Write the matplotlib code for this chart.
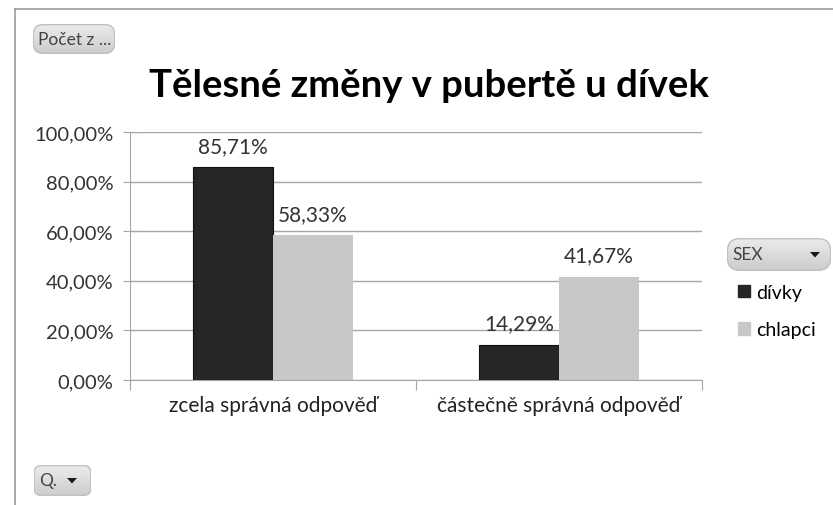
import matplotlib
matplotlib.use("Agg")
import numpy as np
import matplotlib.pyplot as plt
from matplotlib.patches import FancyBboxPatch, Patch, Polygon
from matplotlib.lines import Line2D
from matplotlib.colors import LinearSegmentedColormap

plt.rcParams['font.family'] = ['Lato', 'DejaVu Sans']

categories = ["zcela správná odpověď", "částečně správná odpověď"]
series_names = ["dívky", "chlapci"]
divky = [85.71, 14.29]
chlapci = [58.33, 41.67]
yticks = [0, 20, 40, 60, 80, 100]

dark = "#262626"
light = "#c8c8c8"
axis_grey = "#a6a6a6"
text_grey = "#333333"

W, H = 833, 506
fig = plt.figure(figsize=(W / 100, H / 100), dpi=100)


def fx(px):
    return px / W


def fy(py):
    return 1 - py / H


# outer frame (only left and top edges are visible)
fig.add_artist(Line2D([fx(15), fx(15)], [fy(10), 0], color="#999999", lw=1.2))
fig.add_artist(Line2D([fx(15), 1], [fy(10), fy(10)], color="#999999", lw=1.2))

ax = fig.add_axes([fx(130), fy(381), fx(702) - fx(130), fy(133) - fy(381)])

x = range(len(categories))
w = 0.28
b1 = ax.bar([i - w / 2 for i in x], divky, w, color=dark, edgecolor="#111111", lw=0.8, zorder=3)
b2 = ax.bar([i + w / 2 for i in x], chlapci, w, color=light, zorder=3)

for bars, vals in ((b1, divky), (b2, chlapci)):
    for bar, v in zip(bars, vals):
        ax.annotate(f"{v:.2f}%".replace(".", ","),
                    (bar.get_x() + bar.get_width() / 2, v),
                    xytext=(0, 8), textcoords="offset points",
                    ha="center", va="bottom", fontsize=15, color=text_grey)

ax.set_xlim(-0.5, 1.5)
ax.set_ylim(0, 100)
ax.set_yticks(yticks)
ax.set_yticklabels([f"{t},00%" for t in yticks], fontsize=14.5, color=text_grey)
ax.yaxis.grid(True, color=axis_grey, lw=1)
ax.set_axisbelow(True)

ax.set_xticks([-0.5, 0.5, 1.5])
ax.set_xticklabels([])
ax.set_xticks([0, 1], minor=True)
ax.set_xticklabels(categories, minor=True, fontsize=15, color="#222222")
ax.tick_params(axis="x", which="minor", length=0, pad=11)
ax.tick_params(axis="x", which="major", length=7, color=axis_grey, direction="out")
ax.tick_params(axis="y", length=10, color=axis_grey, direction="inout", pad=7)

for s in ("top", "right"):
    ax.spines[s].set_visible(False)
for s in ("left", "bottom"):
    ax.spines[s].set_color(axis_grey)

fig.text(fx(429), fy(86), "Tělesné změny v pubertě u dívek", ha="center", va="center",
         fontsize=27.5, fontweight="bold", color="black")

# legend
ax.legend(handles=[Patch(color=dark, label=series_names[0]),
                   Patch(color=light, label=series_names[1])],
          loc="upper left", bbox_to_anchor=(fx(738), fy(285)), bbox_transform=fig.transFigure,
          frameon=False, fontsize=14, handlelength=0.6, handleheight=0.6,
          handletextpad=0.35, labelspacing=1.05, borderaxespad=0, borderpad=0)

grad_cmap = LinearSegmentedColormap.from_list("btn", ["#cccccc", "#ececec"])
gradient = np.linspace(0, 1, 64).reshape(-1, 1)


def button(x0, y0, x1, y1, label, arrow_x=None):
    bax = fig.add_axes([fx(x0), fy(y1), fx(x1) - fx(x0), fy(y0) - fy(y1)])
    bax.set_axis_off()
    bax.set_xlim(0, 1)
    bax.set_ylim(0, 1)
    box = FancyBboxPatch((0.004, 0.02), 0.992, 0.96,
                         boxstyle="round,pad=0,rounding_size=0.12",
                         mutation_aspect=(x1 - x0) / (y1 - y0),
                         facecolor="none", edgecolor="#c0c0c0", lw=1,
                         transform=bax.transAxes, zorder=2)
    bax.add_patch(box)
    im = bax.imshow(gradient, extent=[0, 1, 0, 1], origin="lower", aspect="auto",
                    cmap=grad_cmap, zorder=1)
    im.set_clip_path(box)
    fig.text(fx(x0 + 5), fy((y0 + y1) / 2), label, ha="left", va="center",
             fontsize=12.5, color="#444444")
    if arrow_x is not None:
        cy = (y0 + y1) / 2
        fig.add_artist(Polygon([(fx(arrow_x - 5), fy(cy - 2.5)), (fx(arrow_x + 5), fy(cy - 2.5)),
                                (fx(arrow_x), fy(cy + 3))], closed=True,
                               facecolor="#1a1a1a", edgecolor="none",
                               transform=fig.transFigure))


button(33, 25, 115, 55, "Počet z ...")
button(727, 239, 831, 272, "SEX", arrow_x=815)
button(34, 466, 91, 497, "Q.", arrow_x=72)

fig.savefig("out.png", dpi=100)
